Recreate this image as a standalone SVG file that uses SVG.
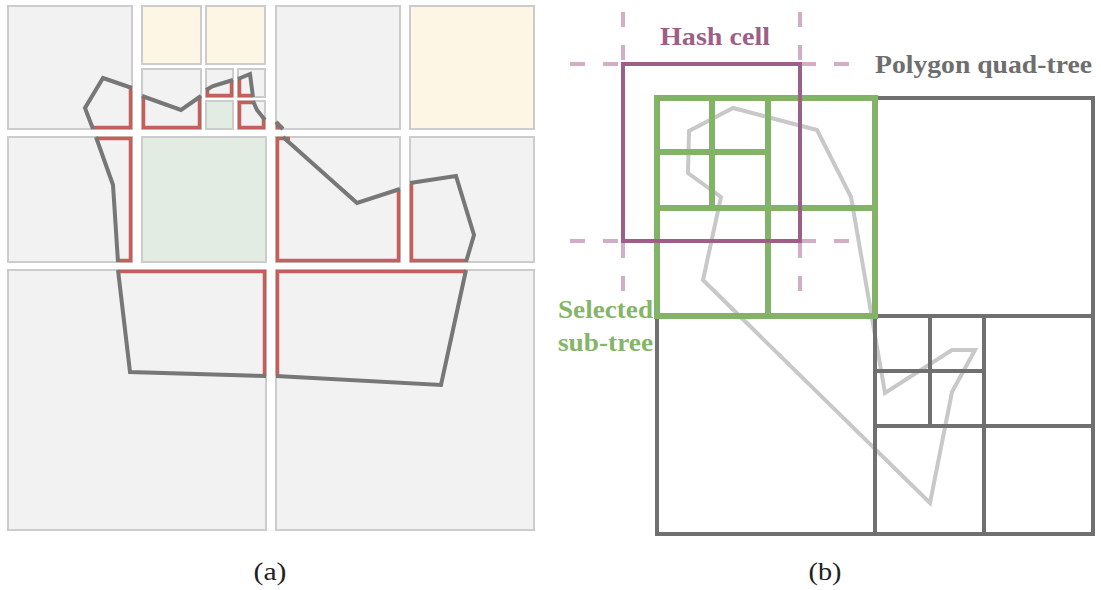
<svg xmlns="http://www.w3.org/2000/svg" width="1101" height="590" viewBox="0 0 1101 590">
<style>
.cell{fill:#f2f2f2;stroke:#cccccc;stroke-width:2}
.yel{fill:#fef6e4;stroke:#cccccc;stroke-width:2}
.grn{fill:#e2ece2;stroke:#cccccc;stroke-width:2}
.red{fill:none;stroke:#c0504d;stroke-width:3.5;stroke-opacity:0.9}
.poly{fill:none;stroke:#777777;stroke-width:4;stroke-linejoin:miter}
.qt{fill:none;stroke:#707070;stroke-width:4}
.sub{fill:none;stroke:#82b366;stroke-width:6}
.hash{fill:none;stroke:#9c5f87;stroke-width:4}
.dash{fill:none;stroke:#d3adc6;stroke-width:4;stroke-dasharray:15 18}
.lbl{font-family:"Liberation Serif",serif;font-weight:bold;font-size:25px}
.cap{font-family:"Liberation Serif",serif;font-size:26px;fill:#222}
</style>
<rect width="1101" height="590" fill="#ffffff"/>
<g id="panel-a">
  <g id="cells">
    <rect id="a1" class="cell" x="8" y="6" width="124" height="123"/>
    <rect id="b1-tl" class="yel" x="142" y="6" width="59" height="58"/>
    <rect id="b1-tr" class="yel" x="206" y="6" width="59" height="58"/>
    <rect id="b1-bl" class="cell" x="142" y="69" width="59" height="60"/>
    <rect id="b1-s1" class="cell" x="206" y="69" width="27" height="28"/>
    <rect id="b1-s2" class="cell" x="238" y="69" width="27" height="28"/>
    <rect id="b1-s3" class="grn" x="206" y="101" width="27" height="28"/>
    <rect id="b1-s4" class="cell" x="238" y="101" width="27" height="28"/>
    <rect id="c1" class="cell" x="276" y="6" width="124" height="123"/>
    <rect id="d1" class="yel" x="410" y="6" width="124" height="123"/>
    <rect id="a2" class="cell" x="8" y="137" width="124" height="125"/>
    <rect id="b2" class="grn" x="142" y="137" width="124" height="125"/>
    <rect id="c2" class="cell" x="276" y="137" width="124" height="125"/>
    <rect id="d2" class="cell" x="410" y="137" width="124" height="125"/>
    <rect id="l3" class="cell" x="8" y="270" width="258" height="260"/>
    <rect id="r3" class="cell" x="276" y="270" width="258" height="260"/>
  </g>
  <g id="boundary">
    <polyline class="red" points="93,127.5 130.5,127.5 130.5,88"/>
    <polyline class="red" points="143.5,96 143.5,127.5 199.5,127.5 199.5,96"/>
    <polyline class="red" points="207.5,90 207.5,95.5 231.5,95.5 231.5,80"/>
    <polyline class="red" points="239.5,78 239.5,95.5 253,95.5"/>
    <polyline class="red" points="254,102.5 239.5,102.5 239.5,127.5 263.5,127.5 263.5,119"/>
    <polyline class="red" points="277.5,122 277.5,127.5 283,127.5"/>
    <polyline class="red" points="96,138.5 130.5,138.5 130.5,260.5 118,260.5"/>
    <polyline class="red" points="290,138.5 277.5,138.5 277.5,260.5 398.5,260.5 398.5,190"/>
    <polyline class="red" points="411.5,184 411.5,260.5 466,260.5"/>
    <polyline class="red" points="118,271.5 264.5,271.5 264.5,376"/>
    <polyline class="red" points="277.5,376 277.5,271.5 466,271.5"/>
  </g>
  <g id="polygon-a">
    <polyline class="poly" points="93,129 85,108 103,78 132,88"/>
    <polyline class="poly" points="142,96 181,110 201,96"/>
    <polyline class="poly" points="206,90 213,86 233,80"/>
    <polyline class="poly" points="238,79 250,74 253,97"/>
    <polyline class="poly" points="253,101 257,110 265,120"/>
    <polyline class="poly" points="276,122 283,129"/>
    <polyline class="poly" points="96,137 113,185 118,262"/>
    <polyline class="poly" points="283,137 357,203 400,189"/>
    <polyline class="poly" points="410,183 456,176 474,235 466,262"/>
    <polyline class="poly" points="118,270 130,372 266,376"/>
    <polyline class="poly" points="276,376 441,385 466,270"/>
  </g>
  <text id="cap-a" class="cap" x="270" y="580" text-anchor="middle" textLength="33" lengthAdjust="spacingAndGlyphs">(a)</text>
</g>
<g id="panel-b">
  <g id="polygon-b">
    <polygon points="689,131 733,108 817,130 851,197 885,393 952,350 975,350 952,392 930,503 703,280 721,197 688,173" fill="none" stroke="#c8c8c8" stroke-width="4"/>
  </g>
  <g id="quad-tree">
    <rect class="qt" x="657" y="98" width="436" height="436"/>
    <line class="qt" x1="875" y1="98" x2="875" y2="534"/>
    <line class="qt" x1="657" y1="316" x2="1093" y2="316"/>
    <line class="qt" x1="984" y1="316" x2="984" y2="534"/>
    <line class="qt" x1="875" y1="426" x2="1093" y2="426"/>
    <line class="qt" x1="930" y1="316" x2="930" y2="426"/>
    <line class="qt" x1="875" y1="371" x2="984" y2="371"/>
  </g>
  <g id="sub-tree">
    <rect class="sub" x="657" y="98" width="218" height="218"/>
    <line class="sub" x1="768" y1="98" x2="768" y2="316"/>
    <line class="sub" x1="657" y1="208" x2="875" y2="208"/>
    <line class="sub" x1="712" y1="98" x2="712" y2="208"/>
    <line class="sub" x1="657" y1="152" x2="768" y2="152"/>
  </g>
  <g id="hash-cell">
    <line class="dash" x1="570" y1="64" x2="852" y2="64"/>
    <line class="dash" x1="570" y1="241" x2="852" y2="241"/>
    <line class="dash" x1="623" y1="12" x2="623" y2="291"/>
    <line class="dash" x1="800" y1="12" x2="800" y2="291"/>
    <rect class="hash" x="623" y="64" width="177" height="177"/>
  </g>
  <g id="labels">
    <text class="lbl" x="715" y="45" text-anchor="middle" fill="#9c5f87" textLength="110" lengthAdjust="spacingAndGlyphs">Hash cell</text>
    <text class="lbl" x="875" y="73" fill="#6e6e6e" textLength="217" lengthAdjust="spacingAndGlyphs">Polygon quad-tree</text>
    <text class="lbl" x="558" y="318" fill="#85b568" textLength="95" lengthAdjust="spacingAndGlyphs">Selected</text>
    <text class="lbl" x="558" y="351" fill="#85b568" textLength="95" lengthAdjust="spacingAndGlyphs">sub-tree</text>
  </g>
  <text id="cap-b" class="cap" x="825" y="580" text-anchor="middle" textLength="33" lengthAdjust="spacingAndGlyphs">(b)</text>
</g>
</svg>
